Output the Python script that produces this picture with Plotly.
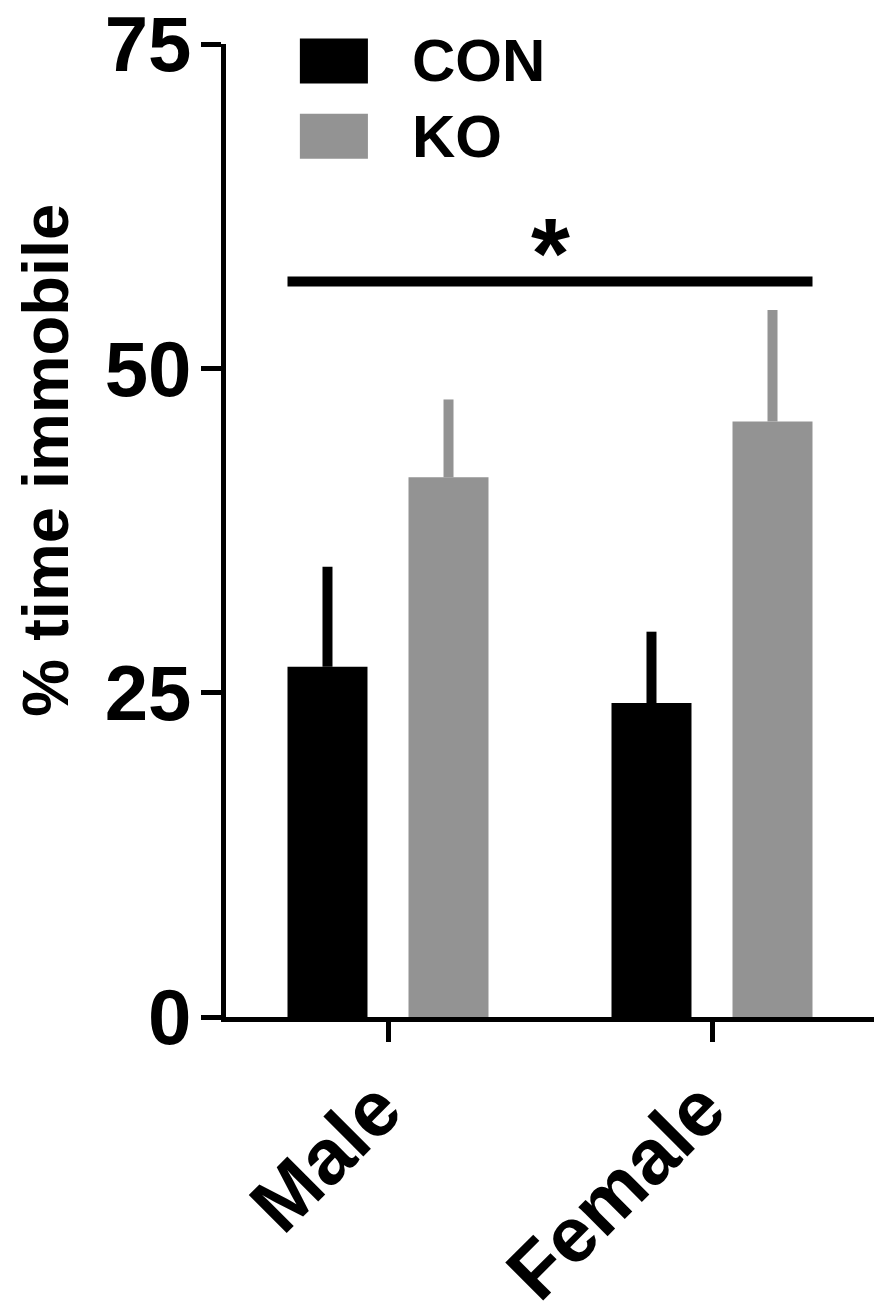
import plotly.graph_objects as go

# values
groups = ["Male", "Female"]
con_mean = [27.0, 24.2]
con_sem = [7.7, 5.5]
ko_mean = [41.6, 45.9]
ko_sem = [6.0, 8.6]
sig_level = 56.7
y_ticks = [0, 25, 50, 75]

FONT = "Liberation Sans"
BLACK = "#000000"
GREY = "#939393"

BARGAP = 0.253
GROUPGAP = 0.339


def make_figure():
    fig = go.Figure()

    for name, mean, sem, color in [
        ("CON", con_mean, con_sem, BLACK),
        ("KO", ko_mean, ko_sem, GREY),
    ]:
        fig.add_trace(
            go.Bar(
                x=groups,
                y=mean,
                name=name,
                marker=dict(color=color, line=dict(width=0)),
                error_y=dict(
                    type="data",
                    symmetric=False,
                    array=sem,
                    arrayminus=[0] * len(sem),
                    width=0,
                    thickness=10,
                    color=color,
                ),
                showlegend=False,
            )
        )

    # significance bar spans outer edges of the bar groups
    slot = (1 - BARGAP) / 2
    half_bar = slot * (1 - GROUPGAP) / 2
    x_left = 0 - slot / 2 - half_bar
    x_right = (len(groups) - 1) + slot / 2 + half_bar
    fig.add_shape(
        type="line",
        xref="x", yref="y",
        x0=x_left, x1=x_right, y0=sig_level, y1=sig_level,
        line=dict(color=BLACK, width=10),
    )
    fig.add_annotation(
        x=(x_left + x_right) / 2, y=sig_level,
        xref="x", yref="y",
        text="*", showarrow=False,
        font=dict(family=FONT, size=100, color=BLACK, weight="bold"),
        yanchor="bottom", yshift=-30,
    )

    # hand-made legend with large swatches
    legend_items = [("CON", BLACK, 1.0057, 0.9594), ("KO", GREY, 0.9282, 0.8820)]
    for label, color, top, bottom in legend_items:
        fig.add_shape(
            type="rect", xref="paper", yref="paper",
            x0=0.114, x1=0.219, y0=bottom, y1=top,
            fillcolor=color, line=dict(width=0),
        )
        fig.add_annotation(
            x=0.284, y=(top + bottom) / 2, xref="paper", yref="paper",
            text=label, showarrow=False, xanchor="left", yanchor="middle",
            font=dict(family=FONT, size=60, color=BLACK, weight="bold"),
        )

    # y title placed by hand (sits above the axis centre in the original)
    fig.add_annotation(
        x=-0.279, y=0.572, xref="paper", yref="paper",
        text="% time immobile", textangle=-90, showarrow=False,
        xanchor="center", yanchor="middle",
        font=dict(family=FONT, size=65, color=BLACK, weight="bold"),
    )

    # page body adds an 8px offset, so the figure is 8px smaller each way
    fig.update_layout(
        width=884,
        height=1308,
        margin=dict(l=218, r=18, t=36, b=299, autoexpand=False),
        paper_bgcolor="white",
        plot_bgcolor="white",
        barmode="group",
        bargap=BARGAP,
        bargroupgap=GROUPGAP,
        font=dict(family=FONT, color=BLACK),
    )
    fig.update_xaxes(
        range=[-0.5, 1.5],
        automargin=False,
        showline=True, linecolor=BLACK, linewidth=5,
        ticks="outside", ticklen=20, tickwidth=5, tickcolor=BLACK,
        tickangle=-45,
        ticklabelstandoff=-10,
        ticklabelshift=-10,
        ticklabeloverflow="allow",
        tickfont=dict(family=FONT, size=78, color=BLACK, weight="bold"),
        showgrid=False, zeroline=False,
    )
    fig.update_yaxes(
        range=[0, 75],
        automargin=False,
        tickvals=y_ticks,
        ticklabelstandoff=-6,
        ticklabeloverflow="allow",
        showline=True, linecolor=BLACK, linewidth=5,
        ticks="outside", ticklen=20, tickwidth=5, tickcolor=BLACK,
        tickfont=dict(family=FONT, size=78, color=BLACK, weight="bold"),
        showgrid=False, zeroline=False,
    )
    return fig


if __name__ == "__main__":
    fig = make_figure()
    fig.write_html("out.html")
